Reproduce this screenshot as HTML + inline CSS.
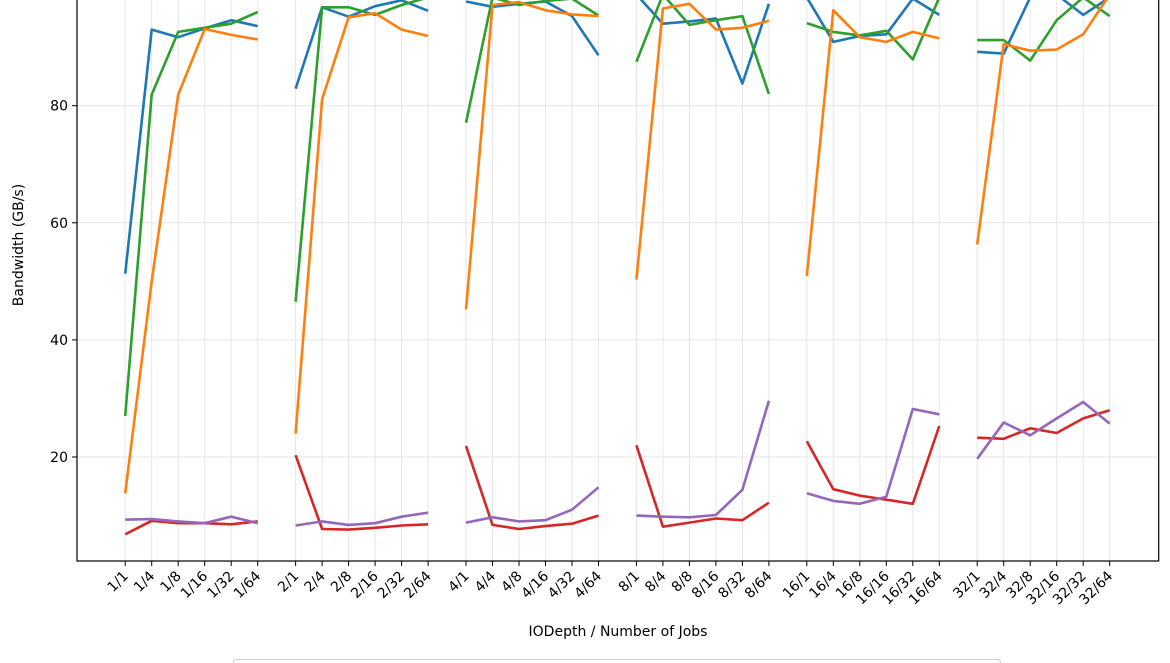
<!DOCTYPE html>
<html><head><meta charset="utf-8"><style>html,body{margin:0;background:#fff;overflow:hidden;width:1170px;height:663px}svg{display:block;overflow:hidden}text{font-family:"DejaVu Sans","Liberation Sans",sans-serif;fill:#000}</style></head>
<body>
<svg id="s" width="1170" height="663" viewBox="0 0 1170 663" xmlns="http://www.w3.org/2000/svg"></svg>
<script>
const s=document.getElementById('s');
const NS='http://www.w3.org/2000/svg';
function el(t,a,txt){const e=document.createElementNS(NS,t);for(const k in a)e.setAttribute(k,a[k]);if(txt!==undefined)e.textContent=txt;s.appendChild(e);return e;}
const X=(g,i)=>125.2+g*170.4+i*26.5;
const Y=v=>105.7+(80-v)*5.855;
const groups=['1','2','4','8','16','32'],jobs=['1','4','8','16','32','64'];
for(let g=0;g<6;g++)for(let i=0;i<6;i++){const x=X(g,i);el('line',{x1:x,x2:x,y1:0,y2:561,stroke:'#e6e6ea','stroke-width':1});}
[80,60,40,20].forEach(v=>el('line',{x1:77,x2:1158.7,y1:Y(v),y2:Y(v),stroke:'#e6e6ea','stroke-width':1}));
const data={
'#1f77b4':[[51.3,93.0,91.7,93.2,94.6,93.6],[82.9,96.8,95.2,97,98,96.2],[97.8,96.9,97.4,97.8,95.3,88.6],[99,94.0,94.4,94.9,83.8,97.4],[98.5,90.9,91.9,92.2,98.3,95.5],[89.2,88.9,98.5,99,95.5,98.5]],
'#2ca02c':[[27,81.9,92.6,93.3,94,96],[46.5,96.8,96.8,95.5,97.2,98.5],[77.1,98.5,97.2,97.9,98.3,95.4],[87.5,99,93.8,94.6,95.3,82.0],[94.1,92.6,92.0,92.8,87.9,98.5],[91.2,91.2,87.7,94.6,98.5,95.3]],
'#ff7f0e':[[13.8,50,81.9,93.1,92.1,91.3],[24,81.1,95.1,95.8,93.0,91.9],[45.2,97.2,97.7,96.3,95.6,95.3],[50.3,96.6,97.4,93.0,93.3,94.5],[50.9,96.3,91.7,90.9,92.6,91.5],[56.3,90.5,89.4,89.6,92.2,99]],
'#d62728':[[6.8,9.1,8.7,8.7,8.5,9.0],[20.3,7.7,7.6,7.9,8.3,8.5],[21.9,8.4,7.7,8.2,8.6,10.0],[22.0,8.1,8.8,9.5,9.2,12.2],[22.7,14.5,13.4,12.7,12.0,25.3],[23.3,23.1,24.9,24.1,26.6,28.0]],
'#9467bd':[[9.3,9.4,9.0,8.7,9.8,8.7],[8.3,9.0,8.4,8.7,9.8,10.5],[8.8,9.7,9.0,9.2,11.0,14.8],[10.0,9.8,9.7,10.1,14.4,29.6],[13.8,12.5,12.0,13.2,28.2,27.3],[19.7,25.9,23.7,26.6,29.4,25.7]]};
for(const c in data){data[c].forEach((arr,g)=>{const pts=arr.map((v,i)=>X(g,i).toFixed(1)+','+Y(v).toFixed(1)).join(' ');el('polyline',{points:pts,fill:'none',stroke:c,'stroke-width':2.6,'stroke-linejoin':'round'});});}
el('rect',{x:77,y:-5,width:1081.7,height:566,fill:'none',stroke:'#000','stroke-width':1.2});
[80,60,40,20].forEach(v=>{el('line',{x1:72,x2:77,y1:Y(v),y2:Y(v),stroke:'#000','stroke-width':1});el('text',{x:68,y:Y(v)+5,'text-anchor':'end','font-size':14},String(v));});
for(let g=0;g<6;g++)for(let i=0;i<6;i++){const x=X(g,i);el('line',{x1:x,x2:x,y1:561,y2:566,stroke:'#000','stroke-width':1});
const tx=x-3,ty=570;
el('text',{x:tx,y:ty,'text-anchor':'end','font-size':14,transform:`rotate(-45 ${tx} ${ty})`,'dominant-baseline':'hanging'},groups[g]+'/'+jobs[i]);}
el('text',{x:618,y:636,'text-anchor':'middle','font-size':14},'IODepth / Number of Jobs');
el('text',{x:23,y:245,'text-anchor':'middle','font-size':14,transform:'rotate(-90 23 245)'},'Bandwidth (GB/s)');
el('path',{d:'M233.5,663 V663 M233.5,663 V663.5 M233.5,664 V662 Q233.5,659.5 237,659.5 H997 Q1000.5,659.5 1000.5,662 V664',fill:'none',stroke:'#d0d0d0','stroke-width':1});
</script>
</body></html>
